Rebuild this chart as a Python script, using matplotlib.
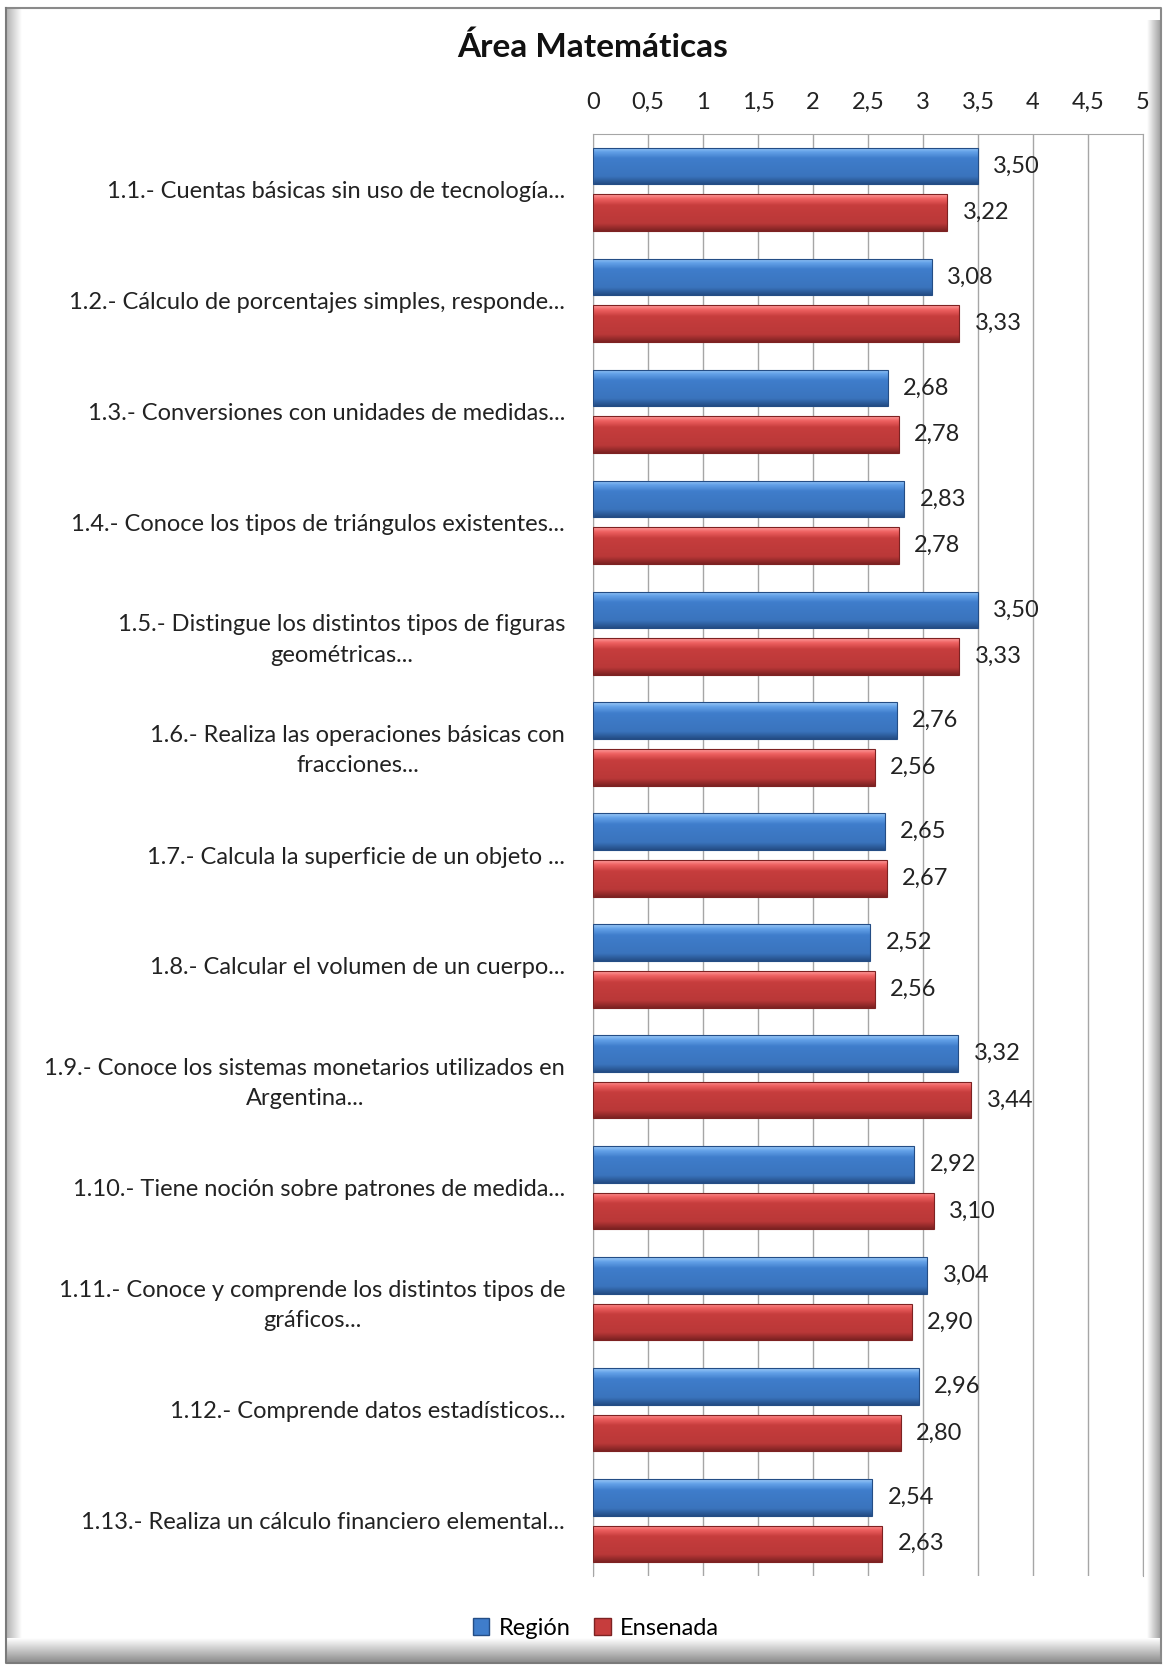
import numpy as np
import matplotlib
matplotlib.use("Agg")
import matplotlib.pyplot as plt
from matplotlib.colors import LinearSegmentedColormap
from matplotlib.patches import Patch

plt.rcParams['font.family'] = ['Lato', 'DejaVu Sans']

# -------------------------------------------------------------------------- #
#                                    data                                    #
# -------------------------------------------------------------------------- #
categories = [
    "1.1.- Cuentas básicas sin uso de tecnología...",
    "1.2.- Cálculo de porcentajes simples, responde...",
    "1.3.- Conversiones con unidades de medidas...",
    "1.4.- Conoce los tipos de triángulos existentes...",
    "1.5.- Distingue los distintos tipos de figuras\ngeométricas...",
    "1.6.- Realiza las operaciones básicas con\nfracciones...",
    "1.7.- Calcula la superficie de un objeto ...",
    "1.8.- Calcular el volumen de un cuerpo...",
    "1.9.- Conoce los sistemas monetarios utilizados en\nArgentina...",
    "1.10.- Tiene noción sobre patrones de medida...",
    "1.11.- Conoce y comprende los distintos tipos de\ngráficos...",
    "1.12.- Comprende datos estadísticos...",
    "1.13.- Realiza un cálculo financiero elemental...",
]
region = [3.50, 3.08, 2.68, 2.83, 3.50, 2.76, 2.65, 2.52, 3.32, 2.92, 3.04, 2.96, 2.54]
ensenada = [3.22, 3.33, 2.78, 2.78, 3.33, 2.56, 2.67, 2.56, 3.44, 3.10, 2.90, 2.80, 2.63]
series_names = ["Región", "Ensenada"]
x_ticks = [0, 0.5, 1, 1.5, 2, 2.5, 3, 3.5, 4, 4.5, 5]
x_tick_labels = ["0", "0,5", "1", "1,5", "2", "2,5", "3", "3,5", "4", "4,5", "5"]

FS = 17

blue_cmap = LinearSegmentedColormap.from_list(
    "b", [(0, "#9ccaf8"), (0.12, "#63a1e8"), (0.3, "#3f7dcb"),
          (0.8, "#3a74bd"), (1, "#244d85")])
red_cmap = LinearSegmentedColormap.from_list(
    "r", [(0, "#ff9e9e"), (0.12, "#ee6060"), (0.3, "#c63d3d"),
          (0.8, "#ba3838"), (1, "#7d2222")])

W, H = 1167, 1667
fig = plt.figure(figsize=(W / 100, H / 100), dpi=100)

# frame with shadow, drawn on a background axes in pixel units
bg = fig.add_axes([0, 0, 1, 1], zorder=-5)
bg.set_xlim(0, W)
bg.set_ylim(H, 0)
bg.axis('off')
gx = np.linspace(0, 1, 64).reshape(1, -1)
gy = np.linspace(0, 1, 64).reshape(-1, 1)
shade = LinearSegmentedColormap.from_list("s", ["#ffffff", "#8a8a8a"])
bg.imshow(1 - gx, extent=(6, 22, 1660, 8), cmap=shade, aspect='auto', vmin=0, vmax=1.5)
bg.imshow(gx, extent=(1147, 1161, 1660, 20), cmap=shade, aspect='auto', vmin=0, vmax=1.2)
bg.imshow(gy, extent=(6, 1161, 1663, 1638), cmap=shade, aspect='auto', vmin=0, vmax=1.0)
bg.plot([6, 1161, 1161], [8, 8, 1663], color="#8a8a8a", lw=1.5)
bg.plot([6, 6, 1161], [8, 1663, 1663], color="#7a7a7a", lw=1.5)

ax = fig.add_axes([593 / W, 1 - 1576 / H, (1143 - 593) / W, (1576 - 134) / H])

y = np.arange(len(categories))
h = 0.33
off = 0.21
for vals, sign, cmap in [(region, -1, blue_cmap), (ensenada, 1, red_cmap)]:
    bars = ax.barh(y + sign * off, vals, height=h, color='none',
                   edgecolor=cmap(1.0), linewidth=0.8, zorder=3)
    for b, v in zip(bars, vals):
        x0, y0 = b.get_x(), b.get_y()
        im = ax.imshow(gy, extent=(x0, x0 + b.get_width(), y0 + b.get_height(), y0),
                       cmap=cmap, aspect='auto', interpolation='bicubic', zorder=2)
        im.set_clip_path(b)
        ax.annotate(f"{v:.2f}".replace('.', ','), (v, b.get_y() + b.get_height() / 2),
                    xytext=(11, 0), textcoords='offset points', va='center', ha='left',
                    fontsize=FS, color="#222222", zorder=4)

ax.set_xlim(0, 5)
ax.set_ylim(len(categories) - 0.5, -0.5)
ax.set_xticks(x_ticks)
ax.set_xticklabels(x_tick_labels, fontsize=FS, color="#222222")
ax.xaxis.tick_top()
ax.tick_params(axis='x', length=0, pad=15)
ax.set_yticks(y)
ax.set_yticklabels(categories, fontsize=FS, color="#222222")
ax.tick_params(axis='y', length=0, pad=20)
for t in ax.get_yticklabels():
    t.set_multialignment('center')
    t.set_linespacing(1.55)
ax.grid(axis='x', color="#a6a6a6", lw=1, zorder=0)
for s in ['top', 'right', 'left']:
    ax.spines[s].set_color("#a6a6a6")
ax.spines['bottom'].set_visible(False)

fig.text(593 / W, 1 - 47 / H, "Área Matemáticas", ha='center', va='center',
         fontsize=24, fontweight='bold', color="#111111")

handles = [Patch(facecolor="#3f7dcb", edgecolor="#244d85"),
           Patch(facecolor="#c63d3d", edgecolor="#7d2222")]
fig.legend(handles, series_names, loc='center', bbox_to_anchor=(596 / W, 1 - 1628 / H),
           ncol=2, frameon=False, fontsize=FS, handlelength=0.7, handleheight=0.7,
           handletextpad=0.4, columnspacing=1.0)

fig.savefig("out.png", dpi=100)
